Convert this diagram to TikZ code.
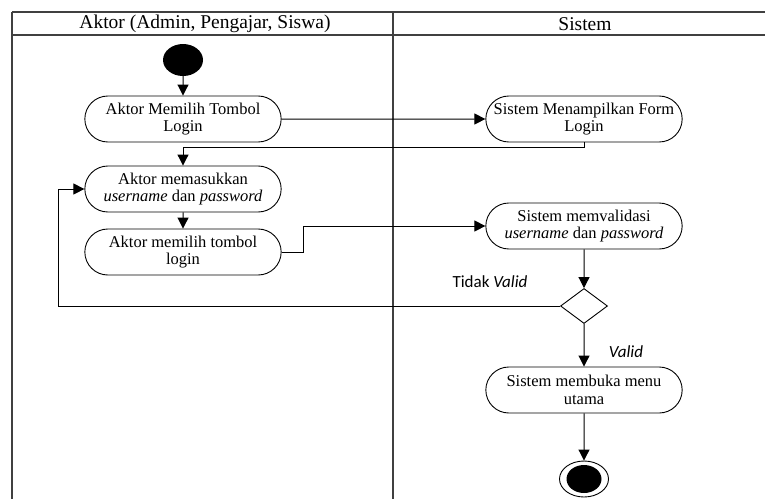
\documentclass[tikz,border=0pt]{standalone}
\usepackage{fontspec}
\setmainfont{Liberation Serif}
\newfontfamily\guardfont{Carlito}
\usetikzlibrary{arrows.meta, shapes.misc, shapes.geometric}
\tikzset{
    lane/.style={line width=1.2pt, black!75},
    activity/.style={draw, rounded rectangle, line width=0.9pt, minimum width=203pt,
        minimum height=46pt, align=center, font=\fontsize{16.5}{17.5}\selectfont},
    decision/.style={draw, diamond, line width=0.9pt, minimum width=47pt,
        minimum height=35pt, inner sep=0pt},
    startnode/.style={ellipse, fill=black, minimum width=40pt, minimum height=32pt, inner sep=0pt},
    endring/.style={draw, ellipse, line width=0.9pt, minimum width=49pt, minimum height=36pt, inner sep=0pt},
    enddot/.style={ellipse, fill=black, minimum width=35pt, minimum height=28pt, inner sep=0pt},
    flow/.style={line width=1pt, -{Triangle[length=11pt,width=11pt]}},
    guard/.style={font=\guardfont\fontsize{17}{19}\selectfont}
}

\begin{document}
\begin{tikzpicture}[x=1pt, y=-1pt]
    \useasboundingbox (0,0) rectangle (765,499);

    % Draw swimlanes
    \draw[lane] (12,12) -- (765,12);
    \draw[lane] (12,35) -- (765,35);
    \draw[lane] (12,12) -- (12,499);
    \draw[lane] (393,12) -- (393,499);
    \node[font=\fontsize{19.5}{21}\selectfont] (aktor) at (205,24) {Aktor (Admin, Pengajar, Siswa)};
    \node[font=\fontsize{19.5}{21}\selectfont] (sistem) at (585,24) {Sistem};

    % Actor lane
    \node[startnode] (start) at (183,60) {};
    \node[activity] (pilih) at (183,119) {Aktor Memilih Tombol\\Login};
    \node[activity] (masuk) at (183,189) {Aktor memasukkan\\\textit{username} dan \textit{password}};
    \node[activity] (tombol) at (183,252) {Aktor memilih tombol\\login};

    % System lane
    \node[activity] (form) at (584,119) {Sistem Menampilkan Form\\Login};
    \node[activity] (validasi) at (584,226) {Sistem memvalidasi\\\textit{username} dan \textit{password}};
    \node[decision] (cek) at (584,306) {};
    \node[activity] (menu) at (584,390) {Sistem membuka menu\\utama};
    \node[endring] (selesai) at (584,479) {};
    \node[enddot] (titik) at (584,479) {};

    % Guards
    \node[guard] (tidak) at (490,282) {Tidak \textit{Valid}};
    \node[guard] (valid) at (626,352) {\textit{Valid}};

    % Connect the actions
    \coordinate (balik) at (58,306);
    \draw[flow] (start) -- (pilih);
    \draw[flow] (pilih) -- (form);
    \draw[flow] (form.south) -- ++(0,5) -| (masuk.north);
    \draw[flow] (masuk) -- (tombol);
    \draw[flow] (tombol.east) -- ++(22,0) |- (validasi.west);
    \draw[flow] (validasi) -- (cek);
    \draw[flow] (cek.west) -- (balik) |- (masuk.west);
    \draw[flow] (cek) -- (menu);
    \draw[flow] (menu) -- (selesai);
\end{tikzpicture}
\end{document}
